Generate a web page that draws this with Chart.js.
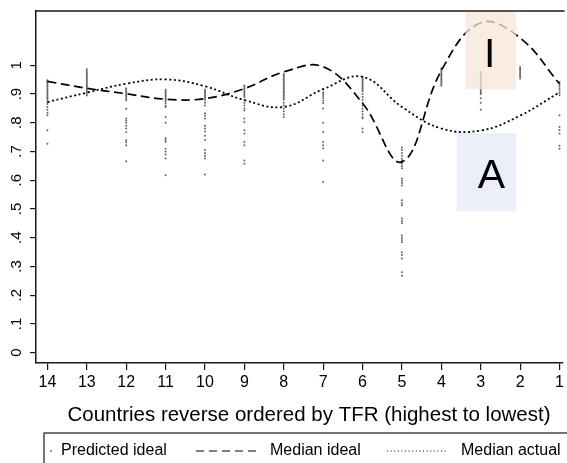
<!DOCTYPE html>
<html>
<head>
<meta charset="utf-8">
<script src="https://cdn.jsdelivr.net/npm/chart.js@4/dist/chart.umd.min.js"></script>
<style>
  html, body { margin: 0; padding: 0; background: #fff; overflow: hidden; }
  #wrap { width: 567px; height: 463px; position: relative; }
</style>
</head>
<body>
<div id="wrap"><canvas id="c" width="567" height="463"></canvas></div>
<script>
// Countries, reverse ordered by total fertility rate (highest = 14, lowest = 1)
const countries = [14, 13, 12, 11, 10, 9, 8, 7, 6, 5, 4, 3, 2, 1];

// Median ideal and median actual proportion per country
const medianIdeal  = [0.944, 0.920, 0.901, 0.882, 0.884, 0.919, 0.977, 0.995, 0.868, 0.664, 0.982, 1.148, 1.095, 0.936];
const medianActual = [0.872, 0.905, 0.936, 0.951, 0.927, 0.879, 0.855, 0.917, 0.960, 0.855, 0.780, 0.773, 0.825, 0.906];

// Predicted ideal values, one list per country (same order as `countries`)
const predictedIdeal = [
  [0.948, 0.944, 0.940, 0.935, 0.930, 0.925, 0.920, 0.915, 0.910, 0.905, 0.900, 0.895, 0.890, 0.885, 0.880, 0.872, 0.865, 0.855, 0.845, 0.835, 0.826, 0.774, 0.727],
  [0.986, 0.980, 0.975, 0.970, 0.965, 0.960, 0.955, 0.950, 0.945, 0.940, 0.935, 0.930, 0.925, 0.920, 0.915, 0.910, 0.905, 0.900, 0.895],
  [0.920, 0.915, 0.910, 0.905, 0.900, 0.895, 0.890, 0.884, 0.878, 0.849, 0.815, 0.808, 0.800, 0.790, 0.780, 0.768, 0.739, 0.732, 0.722, 0.666],
  [0.915, 0.910, 0.905, 0.900, 0.895, 0.890, 0.885, 0.880, 0.875, 0.868, 0.860, 0.855, 0.820, 0.800, 0.746, 0.740, 0.733, 0.710, 0.700, 0.690, 0.676, 0.617],
  [0.915, 0.910, 0.905, 0.900, 0.895, 0.890, 0.885, 0.878, 0.870, 0.860, 0.833, 0.825, 0.815, 0.790, 0.780, 0.770, 0.755, 0.740, 0.705, 0.695, 0.685, 0.676, 0.620],
  [0.930, 0.925, 0.920, 0.915, 0.910, 0.905, 0.900, 0.895, 0.890, 0.880, 0.870, 0.860, 0.850, 0.843, 0.815, 0.803, 0.774, 0.763, 0.733, 0.722, 0.669, 0.657],
  [0.970, 0.965, 0.960, 0.955, 0.950, 0.945, 0.940, 0.935, 0.930, 0.925, 0.920, 0.915, 0.910, 0.905, 0.900, 0.895, 0.890, 0.885, 0.880, 0.870, 0.860, 0.850, 0.840, 0.830, 0.820],
  [0.905, 0.900, 0.893, 0.885, 0.877, 0.868, 0.850, 0.800, 0.768, 0.733, 0.722, 0.711, 0.669, 0.594],
  [0.960, 0.955, 0.950, 0.945, 0.940, 0.935, 0.930, 0.925, 0.920, 0.915, 0.910, 0.900, 0.890, 0.880, 0.870, 0.860, 0.850, 0.840, 0.830, 0.820, 0.815, 0.780, 0.768],
  [0.714, 0.705, 0.695, 0.685, 0.675, 0.669, 0.658, 0.650, 0.642, 0.606, 0.598, 0.590, 0.582, 0.530, 0.520, 0.513, 0.467, 0.458, 0.450, 0.408, 0.400, 0.392, 0.384, 0.349, 0.340, 0.328, 0.280, 0.268],
  [0.990, 0.985, 0.980, 0.975, 0.970, 0.965, 0.960, 0.955, 0.950, 0.945, 0.940, 0.935, 0.930],
  [0.977, 0.970, 0.965, 0.960, 0.955, 0.950, 0.945, 0.940, 0.935, 0.930, 0.925, 0.920, 0.915, 0.910, 0.905, 0.900, 0.885, 0.870, 0.845],
  [0.994, 0.990, 0.985, 0.980, 0.975, 0.970, 0.965, 0.960, 0.954],
  [0.942, 0.935, 0.928, 0.920, 0.912, 0.904, 0.896, 0.826, 0.785, 0.775, 0.763, 0.720, 0.710]
];

// Vertical axis ticks and their labels
const yTicks      = [0, 0.1, 0.2, 0.3, 0.4, 0.5, 0.6, 0.7, 0.8, 0.9, 1];
const yTickLabels = ['0', '.1', '.2', '.3', '.4', '.5', '.6', '.7', '.8', '.9', '1'];

const xTitle = 'Countries reverse ordered by TFR (highest to lowest)';
const legendLabels = ['Predicted ideal', 'Median ideal', 'Median actual'];

const FONT = "'Liberation Sans', Arial, Helvetica, sans-serif";
const INK = '#1a1a1a';

const idealPoints  = countries.map((c, i) => ({ x: c, y: medianIdeal[i] }));
const actualPoints = countries.map((c, i) => ({ x: c, y: medianActual[i] }));
const predictedPoints = [];
countries.forEach((c, i) => predictedIdeal[i].forEach(v => predictedPoints.push({ x: c, y: v })));

// Frame, rotated y labels, shaded "I"/"A" panels, x title and legend
const decorations = {
  id: 'decorations',
  afterDatasetsDraw(chart) {
    const { ctx, scales: { x, y } } = chart;

    // shaded panels drawn over the data, letters on top
    const panels = [
      { x0: 3.39, x1: 2.10, y0: 1.186, y1: 0.9165, fill: 'rgba(250, 230, 216, 0.75)', letter: 'I', lx: 2.77, ly: 1.035 },
      { x0: 3.61, x1: 2.10, y0: 0.764, y1: 0.492, fill: 'rgba(230, 235, 247, 0.8)', letter: 'A', lx: 2.73, ly: 0.614 }
    ];
    ctx.save();
    panels.forEach(p => {
      const px0 = x.getPixelForValue(p.x0), px1 = x.getPixelForValue(p.x1);
      const py0 = y.getPixelForValue(p.y0), py1 = y.getPixelForValue(p.y1);
      ctx.fillStyle = p.fill;
      ctx.fillRect(px0, py0, px1 - px0, py1 - py0);
    });
    ctx.fillStyle = '#000';
    ctx.font = '41px ' + FONT;
    ctx.textAlign = 'center';
    ctx.textBaseline = 'middle';
    panels.forEach(p => {
      ctx.fillText(p.letter, x.getPixelForValue(p.lx), y.getPixelForValue(p.ly));
    });
    ctx.restore();
  },
  afterDraw(chart) {
    const { ctx, chartArea: a, scales: { y } } = chart;
    ctx.save();
    // top edge of the plot frame
    ctx.strokeStyle = INK;
    ctx.lineWidth = 1.5;
    ctx.beginPath();
    ctx.moveTo(a.left, a.top);
    ctx.lineTo(a.right + 2, a.top);
    ctx.stroke();

    // y tick labels, rotated to read upwards
    ctx.fillStyle = '#000';
    ctx.font = '15px ' + FONT;
    ctx.textAlign = 'center';
    ctx.textBaseline = 'alphabetic';
    yTicks.forEach((v, i) => {
      const py = y.getPixelForValue(v);
      ctx.save();
      ctx.translate(21, py);
      ctx.rotate(-Math.PI / 2);
      ctx.fillText(yTickLabels[i], 0, 0);
      ctx.restore();
    });

    // x axis title
    ctx.font = '20.5px ' + FONT;
    ctx.textBaseline = 'middle';
    ctx.fillText(xTitle, 309, 415);

    // legend frame and keys
    ctx.strokeStyle = INK;
    ctx.lineWidth = 1.2;
    ctx.strokeRect(44, 433, 560, 60);
    const ly = 451;
    ctx.fillStyle = '#666';
    ctx.beginPath();
    ctx.arc(51, ly, 0.9, 0, Math.PI * 2);
    ctx.fill();

    ctx.strokeStyle = '#000';
    ctx.lineWidth = 1.2;
    ctx.setLineDash([8, 5]);
    ctx.beginPath(); ctx.moveTo(196, ly); ctx.lineTo(259, ly); ctx.stroke();
    ctx.setLineDash([1, 2.6]);
    ctx.beginPath(); ctx.moveTo(387, ly); ctx.lineTo(446, ly); ctx.stroke();
    ctx.setLineDash([]);

    ctx.fillStyle = '#000';
    ctx.font = '16px ' + FONT;
    ctx.textAlign = 'left';
    ctx.fillText(legendLabels[0], 61, ly);
    ctx.fillText(legendLabels[1], 270, ly);
    ctx.fillText(legendLabels[2], 461, ly);
    ctx.restore();
  }
};

new Chart(document.getElementById('c'), {
  type: 'line',
  data: {
    datasets: [
      {
        label: legendLabels[1], data: idealPoints,
        borderColor: '#000', borderWidth: 1.7, borderDash: [9, 4.5],
        pointRadius: 0, tension: 0.4, fill: false
      },
      {
        label: legendLabels[2], data: actualPoints,
        borderColor: '#000', borderWidth: 1.8, borderDash: [2, 2.6],
        pointRadius: 0, tension: 0.4, fill: false
      },
      {
        type: 'scatter', label: legendLabels[0], data: predictedPoints,
        pointRadius: 1, pointBackgroundColor: '#666', pointBorderWidth: 0,
        showLine: false
      }
    ]
  },
  options: {
    responsive: false,
    animation: false,
    devicePixelRatio: 1,
    layout: { padding: { top: 11, left: 0, right: 0, bottom: 0 } },
    plugins: { legend: { display: false }, tooltip: { enabled: false } },
    scales: {
      x: {
        type: 'linear', reverse: true, min: 0.92, max: 14.29,
        afterBuildTicks: s => { s.ticks = countries.map(v => ({ value: v })); },
        afterFit: s => { s.height = 100; },
        border: { display: true, color: INK, width: 1.5 },
        grid: { display: true, drawOnChartArea: false, drawTicks: true, tickLength: 7, color: INK, lineWidth: 1.2 },
        ticks: { font: { family: FONT, size: 16 }, color: '#000', padding: 3, maxRotation: 0, minRotation: 0, autoSkip: false }
      },
      y: {
        type: 'linear', min: -0.036, max: 1.189,
        afterBuildTicks: s => { s.ticks = yTicks.map(v => ({ value: v })); },
        afterFit: s => { s.width = 36; },
        border: { display: true, color: INK, width: 1.5 },
        grid: { display: true, drawOnChartArea: false, drawTicks: true, tickLength: 6, color: INK, lineWidth: 1.2 },
        ticks: { display: false }
      }
    }
  },
  plugins: [decorations]
});
</script>
</body>
</html>
